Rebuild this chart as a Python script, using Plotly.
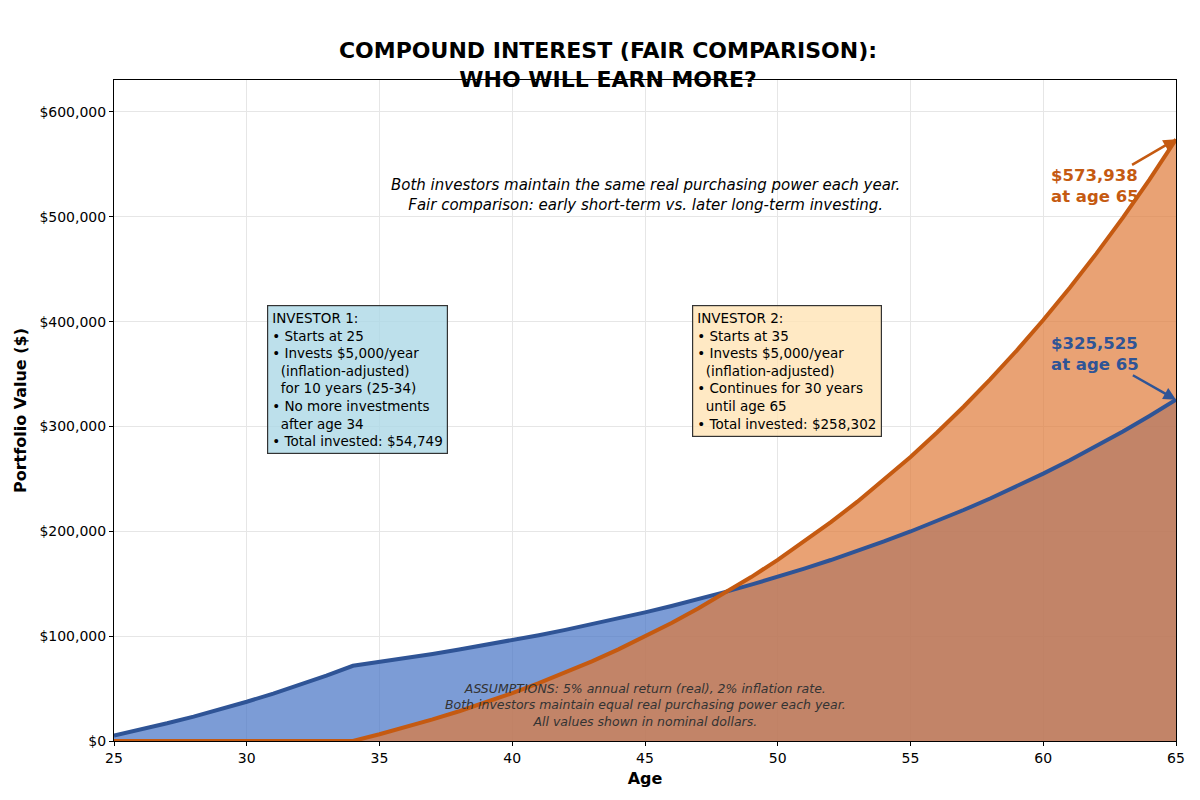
import plotly.graph_objects as go

# ages on the x axis
ages = list(range(25, 66))

# portfolio values (nominal $), one per age 25..65
investor1 = [5250, 10868, 16873, 23288, 30135, 37438, 45222, 53513, 62340, 71731,
             75318, 79083, 83038, 87190, 91549, 96127, 100933, 105980, 111279, 116843,
             122685, 128819, 135260, 142023, 149124, 156581, 164410, 172630, 181262, 190325,
             199841, 209833, 220325, 231341, 242908, 255054, 267806, 281197, 295257, 310019,
             325525]
investor2 = [0, 0, 0, 0, 0, 0, 0, 0, 0, 0,
             6400, 13248, 20568, 28388, 36734, 45636, 55125, 65232, 75992, 87440,
             99614, 112552, 126296, 140889, 156378, 172810, 190236, 208709, 228285, 249022,
             270983, 294232, 318838, 344871, 372408, 401527, 432312, 464851, 499235, 535562,
             573938]

FONT = "DejaVu Sans"
BLUE_LINE = "#2F5496"
ORANGE_LINE = "#C55A11"

fig = go.Figure()

# fills first, lines on top (like fill_between then plot)
fig.add_trace(go.Scatter(x=ages, y=investor1, mode="lines", line=dict(width=0),
                         fill="tozeroy", fillcolor="rgba(68,114,196,0.7)", hoverinfo="skip"))
fig.add_trace(go.Scatter(x=ages, y=investor2, mode="lines", line=dict(width=0),
                         fill="tozeroy", fillcolor="rgba(224,123,57,0.7)", hoverinfo="skip"))
fig.add_trace(go.Scatter(x=ages, y=investor1, mode="lines", name="Investor 1",
                         line=dict(color=BLUE_LINE, width=4)))
fig.add_trace(go.Scatter(x=ages, y=investor2, mode="lines", name="Investor 2",
                         line=dict(color=ORANGE_LINE, width=4)))

nb = "\u00a0"
inv1_text = ("INVESTOR 1:<br>• Starts at 25<br>• Invests $5,000/year<br>"
             + nb * 2 + "(inflation-adjusted)<br>" + nb * 2 + "for 10 years (25-34)<br>"
             + "• No more investments<br>" + nb * 2 + "after age 34<br>• Total invested: $54,749")
inv2_text = ("INVESTOR 2:<br>• Starts at 35<br>• Invests $5,000/year<br>"
             + nb * 2 + "(inflation-adjusted)<br>• Continues for 30 years<br>"
             + nb * 2 + "until age 65<br>• Total invested: $258,302")

fig.add_annotation(x=30.75, y=416000, xref="x", yref="y", text=inv1_text,
                   showarrow=False, xanchor="left", yanchor="top", align="left",
                   font=dict(family=FONT, size=13.5, color="black"),
                   bgcolor="rgba(173,216,230,0.8)", bordercolor="#333333",
                   borderwidth=1.2, borderpad=4)
fig.add_annotation(x=46.77, y=416000, xref="x", yref="y", text=inv2_text,
                   showarrow=False, xanchor="left", yanchor="top", align="left",
                   font=dict(family=FONT, size=13.5, color="black"),
                   bgcolor="rgba(255,228,181,0.8)", bordercolor="#333333",
                   borderwidth=1.2, borderpad=4)

# subtitle inside the plot
fig.add_annotation(x=45, y=521000, xref="x", yref="y",
                   text="<i>Both investors maintain the same real purchasing power each year.<br>"
                        "Fair comparison: early short-term vs. later long-term investing.</i>",
                   showarrow=False, font=dict(family=FONT, size=15, color="black"))

# assumptions note
fig.add_annotation(x=45, y=34500, xref="x", yref="y",
                   text="<i>ASSUMPTIONS: 5% annual return (real), 2% inflation rate.<br>"
                        "Both investors maintain equal real purchasing power each year.<br>"
                        "All values shown in nominal dollars.</i>",
                   showarrow=False, font=dict(family=FONT, size=12.5, color="#333333"))

# final value callouts
fig.add_annotation(x=65, y=investor2[-1], xref="x", yref="y",
                   text="<b>$573,938<br>at age 65</b>", align="left",
                   font=dict(family=FONT, size=16.5, color=ORANGE_LINE),
                   showarrow=True, arrowhead=2, arrowsize=1, arrowwidth=2.5,
                   arrowcolor=ORANGE_LINE, ax=-81, ay=47)
fig.add_annotation(x=65, y=investor1[-1], xref="x", yref="y",
                   text="<b>$325,525<br>at age 65</b>", align="left",
                   font=dict(family=FONT, size=16.5, color=BLUE_LINE),
                   showarrow=True, arrowhead=2, arrowsize=1, arrowwidth=2.5,
                   arrowcolor=BLUE_LINE, ax=-81, ay=-46)

fig.update_layout(
    width=1200, height=800,
    paper_bgcolor="white", plot_bgcolor="white",
    font=dict(family=FONT, size=14, color="black"),
    margin=dict(l=104, r=32, t=72, b=67),
    showlegend=False,
    title=dict(text="<b>COMPOUND INTEREST (FAIR COMPARISON):<br>WHO WILL EARN MORE?</b>",
               x=0.5, xanchor="center", y=0.937, yanchor="middle", yref="container",
               font=dict(family=FONT, size=22, color="black")),
)

fig.update_xaxes(range=[25, 65], dtick=5,
                 title=dict(text="<b>Age</b>", font=dict(size=16), standoff=8),
                 tickfont=dict(size=14),
                 showgrid=True, gridcolor="#e6e6e6", zeroline=False,
                 showline=True, linecolor="black", linewidth=1, mirror=True,
                 ticks="outside", ticklen=4, tickcolor="black")
fig.update_yaxes(range=[0, 630500], dtick=100000, tickformat="$,.0f",
                 title=dict(text="<b>Portfolio Value ($)</b>", font=dict(size=16), standoff=8),
                 tickfont=dict(size=14),
                 showgrid=True, gridcolor="#e6e6e6", zeroline=False,
                 showline=True, linecolor="black", linewidth=1, mirror=True,
                 ticks="outside", ticklen=4, tickcolor="black")

fig.write_html("out.html")
